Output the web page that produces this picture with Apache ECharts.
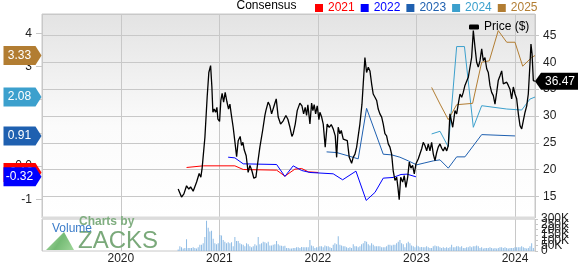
<!DOCTYPE html>
<html><head><meta charset="utf-8">
<script src="https://cdn.jsdelivr.net/npm/echarts@6/dist/echarts.min.js"></script>
<style>html,body{margin:0;padding:0;background:#fff}#c{width:578px;height:265px}</style>
</head><body><div id="c"></div>
<script>
// ---- data (time in decimal years) ----
const xMin = 2019.2, xMax = 2024.203;
const yearTicks = [2020, 2021, 2022, 2023, 2024];
const epsTicks = [-1, 0, 1, 2, 3, 4];
const volumeTicks = [0, 50000, 100000, 150000, 200000, 250000, 300000];

const priceYears = [2020.582,2020.616,2020.640,2020.667,2020.690,2020.708,2020.734,2020.769,2020.795,2020.812,2020.825,2020.853,2020.876,2020.893,2020.911,2020.924,2020.934,2020.947,2020.961,2020.975,2020.985,2021.002,2021.015,2021.028,2021.043,2021.059,2021.076,2021.093,2021.107,2021.120,2021.140,2021.160,2021.175,2021.191,2021.211,2021.225,2021.239,2021.252,2021.272,2021.292,2021.310,2021.330,2021.350,2021.371,2021.388,2021.411,2021.439,2021.462,
2021.472,2021.495,2021.513,2021.530,2021.546,2021.560,2021.577,2021.597,2021.621,2021.648,2021.675,2021.695,2021.716,2021.736,2021.749,2021.770,2021.790,2021.817,2021.838,2021.855,2021.871,2021.885,2021.898,2021.919,2021.936,2021.949,2021.962,2021.977,2021.993,2022.010,2022.020,2022.038,2022.054,2022.074,2022.094,2022.115,2022.135,2022.155,2022.176,2022.190,2022.206,2022.223,2022.237,2022.257,2022.277,2022.298,2022.318,2022.342,2022.358,
2022.376,2022.393,2022.409,2022.426,2022.447,2022.460,2022.477,2022.494,2022.511,2022.528,2022.545,2022.561,2022.579,2022.596,2022.612,2022.629,2022.647,2022.663,2022.680,2022.697,2022.714,2022.731,2022.748,2022.764,2022.782,2022.799,2022.812,2022.825,2022.840,2022.860,2022.876,2022.893,2022.911,2022.927,2022.944,2022.961,2022.978,2022.995,2023.018,2023.036,2023.053,2023.069,2023.086,2023.104,2023.120,2023.137,2023.154,2023.171,2023.188,2023.205,2023.221,2023.239,2023.256,2023.272,2023.289,2023.307,2023.323,
2023.340,2023.368,2023.391,2023.408,2023.424,2023.442,2023.459,2023.475,2023.492,2023.510,2023.526,2023.543,2023.560,2023.577,2023.594,2023.611,2023.627,2023.645,2023.662,2023.678,2023.695,2023.713,2023.729,2023.746,2023.763,2023.780,2023.797,2023.814,2023.830,2023.848,2023.865,2023.881,2023.898,2023.916,2023.932,2023.949,2023.966,2023.983,2024.000,2024.017,2024.034,2024.051,2024.068,2024.084,2024.102,2024.119,2024.135,2024.152,2024.162,2024.173,2024.186,2024.203];
const priceValues = [16.4,14.9,15.5,17.0,16.4,16.8,16.0,17.7,19.3,18.6,20.3,26.0,33.5,38.1,39.4,35.4,30.7,31.3,30.7,31.6,29.4,29.0,32.9,34.2,32.6,34.4,32.7,31.3,32.2,30.4,27.9,24.8,22.4,25.4,26.2,24.5,25.1,23.7,22.6,19.5,20.8,19.8,18.4,18.6,21.1,24.2,27.3,30.1,
31.0,32.6,31.9,30.4,30.7,32.2,33.2,29.8,28.5,29.1,30.1,29.4,27.9,26.2,26.7,28.5,31.0,32.4,31.9,30.4,31.6,30.1,32.1,28.5,32.4,31.0,32.1,30.4,31.9,29.3,30.7,29.8,28.5,24.2,28.5,27.9,28.4,27.6,26.3,22.3,27.9,26.7,27.3,25.7,26.0,25.4,22.3,21.2,22.3,
22.9,24.2,24.5,28.5,32.2,36.0,40.9,38.1,39.1,38.4,36.0,34.1,33.5,32.9,31.3,30.4,29.8,28.5,26.7,26.3,24.8,24.2,22.9,19.8,18.0,18.6,16.7,14.4,18.6,17.7,18.9,16.7,18.6,21.4,20.3,20.8,19.2,21.1,22.0,22.3,23.9,25.1,24.5,23.5,24.8,23.5,25.1,22.9,21.7,23.2,24.2,24.8,24.0,23.5,24.2,23.5,24.5,
30.4,27.9,31.0,30.4,32.2,34.1,33.5,34.4,35.7,36.0,37.2,37.5,40.9,45.9,42.8,40.0,39.1,40.3,42.5,40.3,40.9,38.8,38.1,35.7,34.4,33.8,32.2,34.4,36.6,37.5,38.4,36.0,35.7,36.3,35.7,35.0,33.2,35.4,34.1,33.2,30.4,28.2,27.6,29.1,30.7,31.9,34.1,39.7,43.4,41.6,36.6,36.47];

const eps2021Years = [2020.667,2020.836,2021.157,2021.242,2021.581,2021.665,2021.766,2021.835,2021.902,2022.003];
const eps2021 = [-0.04,0.01,0.01,-0.10,-0.12,-0.30,-0.09,-0.07,-0.17,-0.19];
const eps2022Years = [2021.089,2021.157,2021.242,2021.581,2021.665,2021.749,2021.835,2021.919,2022.155,2022.251,2022.386,2022.490,2022.579,2022.663,2022.764,2022.843,2022.904,2022.995];
const eps2022 = [0.27,0.25,0.07,0.05,-0.31,0.01,-0.13,-0.19,-0.23,-0.41,-0.15,-1.03,-0.79,-0.36,-0.34,-0.25,-0.24,-0.32];
const eps2023Years = [2022.088,2022.190,2022.308,2022.409,2022.494,2022.663,2022.748,2022.832,2022.917,2023.002,2023.086,2023.171,2023.239,2023.323,2023.408,2023.492,2023.662,2024.000];
const eps2023 = [0.43,0.41,0.31,0.22,1.74,0.36,0.34,0.27,0.16,0.04,0.10,0.16,0.19,-0.06,0.28,0.28,0.95,0.91];
const eps2024Years = [2023.154,2023.239,2023.323,2023.408,2023.487,2023.577,2023.662,2023.916,2024.068,2024.152,2024.203];
const eps2024 = [0.97,1.05,0.58,3.60,3.60,1.17,1.82,1.72,1.69,2.02,2.08];
const eps2025Years = [2023.154,2023.239,2023.323,2023.408,2023.570,2023.662,2023.739,2023.830,2023.916,2024.000,2024.078,2024.169,2024.203];
const eps2025 = [2.37,1.87,1.40,1.85,1.89,3.13,3.17,4.08,3.73,3.73,3.01,3.27,3.33];

const volumeStartYear = 2020.582, volumeStepYears = 0.01692;
const volumeK = [15,44,35,23,29,
110,29,29,29,35,29,23,35,58,58,73,131,284,218,183,189,116,73,64,73,151,145,102,87,73,81,73,
81,44,131,93,93,73,64,58,44,73,
64,44,35,44,64,52,131,64,73,87,
81,73,87,52,52,58,64,93,64,52,
49,44,49,29,29,23,23,29,29,35,
35,29,38,35,35,35,35,102,52,44,
29,35,35,44,44,35,52,44,44,35,
29,58,73,64,139,58,52,44,44,35,
29,35,29,64,44,44,35,44,64,73,
93,87,64,52,73,58,44,44,44,44,
35,35,35,44,58,58,52,58,58,73,
87,102,73,64,35,73,87,73,52,44,
35,52,44,35,38,35,35,44,35,29,
29,44,52,44,44,35,29,35,29,35,
29,35,58,35,35,44,44,35,44,29,
29,35,35,44,35,44,44,52,44,29,
35,23,29,29,29,35,29,23,29,23,
29,35,35,29,35,29,23,29,29,29,
35,35,35,35,44,35,29,23,29,44,
73,29];

const seriesNames = ['2021','2022','2023','2024','2025'];
const seriesColors = ['#ff0000','#0000ff','#1f60b0','#3ca0cd','#b27d32'];
const epsYears = [eps2021Years, eps2022Years, eps2023Years, eps2024Years, eps2025Years];
const epsValues = [eps2021, eps2022, eps2023, eps2024, eps2025];

// ---- build ----
const FONT = "'Liberation Sans', Arial, sans-serif";
const zip = (xs, ys) => xs.map((x, i) => [x, ys[i]]);
const series = [];
seriesNames.forEach((n, i) => {
  series.push({
    name: n, type: 'line', xAxisIndex: 0, yAxisIndex: 1,
    data: zip(epsYears[i], epsValues[i]), showSymbol: false, symbol: 'none',
    lineStyle: { width: 1, color: seriesColors[i] }, itemStyle: { color: seriesColors[i] },
    z: 3, animation: false
  });
});
series.push({
  name: 'Price ($)', type: 'line', xAxisIndex: 0, yAxisIndex: 0,
  data: zip(priceYears, priceValues), showSymbol: false, symbol: 'none',
  lineStyle: { width: 1.3, color: '#000' }, itemStyle: { color: '#000' }, z: 4, animation: false
});
series.push({
  name: 'Volume', type: 'bar', xAxisIndex: 1, yAxisIndex: 2, barWidth: 1,
  data: volumeK.map((v, i) => [volumeStartYear + i * volumeStepYears, v * 1000]),
  itemStyle: { color: '#8fbce5' }, animation: false
});
// left consensus tags (latest value of each year)
seriesNames.forEach((n, i) => {
  const vals = epsValues[i];
  series.push({
    name: 'tag' + n, type: 'scatter', xAxisIndex: 0, yAxisIndex: 1, clip: false,
    data: [[xMin, vals[vals.length - 1]]],
    symbol: 'path://M0,0L32,0L38,9.5L32,19L0,19Z', symbolSize: [38, 19], symbolOffset: [-19.5, 0],
    itemStyle: { color: seriesColors[i], opacity: 1 },
    label: { show: true, position: 'inside', offset: [-3, 0], color: '#fff', fontSize: 12, fontFamily: FONT,
      formatter: p => p.value[1].toFixed(2) },
    z: 10 + i, silent: true, animation: false
  });
});
series.push({
  name: 'priceTag', type: 'scatter', xAxisIndex: 0, yAxisIndex: 0, clip: false,
  data: [[xMax, priceValues[priceValues.length - 1]]],
  symbol: 'path://M6,0L44,0L44,17L6,17L0,8.5Z', symbolSize: [44, 17], symbolOffset: [22, 0],
  itemStyle: { color: '#000', opacity: 1 },
  label: { show: true, position: 'inside', offset: [3, 0], color: '#fff', fontSize: 12, fontFamily: FONT,
    formatter: p => p.value[1].toFixed(2) },
  z: 20, silent: true, animation: false
});

const gridLine = { show: true, lineStyle: { color: '#c8c8c8', width: 1 } };
const volFmt = v => (v === 0 ? '0' : (v / 1000) + 'K');
// volume labels split over three overlaid axes so every crowded label is drawn
const volLabelAxes = [0, 1, 2].map(k => ({
  type: 'value', gridIndex: 1, position: 'right', offset: 0, min: 0, max: 300000, interval: 50000,
  splitLine: { show: false }, axisLine: { show: false },
  axisTick: k === 0 ? { show: true, length: 3, lineStyle: { color: '#c8c8c8' }, customValues: volumeTicks } : { show: false },
  axisLabel: { margin: 6, fontSize: 12, color: '#222', hideOverlap: false,
    customValues: volumeTicks.filter((v, i) => i % 3 === k), showMinLabel: true, showMaxLabel: true, formatter: volFmt }
}));
const option = {
  animation: false,
  backgroundColor: '#fff',
  textStyle: { fontFamily: FONT },
  grid: [
    { left: 42, right: 43, top: 14, height: 204, show: true, borderColor: '#c8c8c8', borderWidth: 1,
      backgroundColor: { type: 'linear', x: 0, y: 0, x2: 0, y2: 1,
        colorStops: [{ offset: 0, color: '#e3e3e3' }, { offset: 0.55, color: '#fbfbfb' }, { offset: 1, color: '#ffffff' }] } },
    { left: 42, right: 43, top: 219, height: 35, show: true, borderColor: '#c8c8c8', borderWidth: 1, backgroundColor: '#fff' }
  ],
  legend: [
    { left: 310, top: -3, itemWidth: 8, itemHeight: 8, itemGap: 6, icon: 'rect', selectedMode: false,
      textStyle: { fontSize: 12, fontFamily: FONT },
      data: seriesNames.map((n, i) => ({ name: n, itemStyle: { color: seriesColors[i] }, textStyle: { color: seriesColors[i] } })) },
    { left: 464, top: 16, itemWidth: 10, itemHeight: 5, icon: 'roundRect', selectedMode: false,
      textStyle: { fontSize: 12, color: '#000', fontFamily: FONT }, data: ['Price ($)'] }
  ],
  xAxis: [
    { type: 'value', gridIndex: 0, min: xMin, max: xMax, splitLine: gridLine,
      axisLine: { show: false }, axisTick: { show: false }, axisLabel: { show: false } },
    { type: 'value', gridIndex: 1, min: xMin, max: xMax, splitLine: gridLine,
      axisLine: { show: false }, axisTick: { show: false },
      axisLabel: { show: true, margin: 2, fontSize: 12, color: '#222',
        customValues: yearTicks, formatter: v => String(Math.round(v)) } }
  ],
  yAxis: [
    { type: 'value', gridIndex: 0, position: 'right', min: 11, max: 49, splitNumber: 8,
      splitLine: gridLine, axisLine: { show: false },
      axisTick: { show: true, length: 4, lineStyle: { color: '#c8c8c8' } },
      axisLabel: { margin: 8, fontSize: 12, color: '#222', showMinLabel: false, showMaxLabel: false } },
    { type: 'value', gridIndex: 0, position: 'left', min: -1.56, max: 4.58, splitNumber: 6,
      splitLine: { show: false }, axisLine: { show: false },
      axisTick: { show: true, length: 6, lineStyle: { color: '#c8c8c8' }, customValues: epsTicks },
      axisLabel: { margin: 10, fontSize: 12, color: '#222', customValues: epsTicks,
        formatter: v => (v === 0 ? '0.0' : String(v)) } }
  ].concat(volLabelAxes),
  graphic: [
    { type: 'rect', shape: { x: 42, y: 216.5, width: 493, height: 3 }, style: { fill: '#dcdcdc' }, z: 5, silent: true },
    { type: 'text', x: 236.5, y: 5.5, style: { text: 'Consensus', fontSize: 12, fontFamily: FONT, fill: '#000', verticalAlign: 'middle' }, z: 5 },
    { type: 'polygon', shape: { points: [[46, 250], [74, 250], [64, 232]] },
      style: { fill: { type: 'linear', x: 0, y: 0, x2: 1, y2: 1,
        colorStops: [{ offset: 0, color: '#a8d8a0' }, { offset: 0.5, color: '#5caf5c' }, { offset: 1, color: '#8fcf88' }] }, opacity: 0.85 }, z: 5 },
    { type: 'text', x: 79, y: 222, style: { text: 'Charts by', fontSize: 12, fontWeight: 'bold', fontFamily: FONT, fill: '#80ae80', verticalAlign: 'middle' }, z: 5 },
    { type: 'text', x: 78, y: 241.5, style: { text: 'ZACKS', fontSize: 24, fontFamily: FONT, fill: '#7aa97a', verticalAlign: 'middle' }, z: 5 },
    { type: 'text', x: 52, y: 229, style: { text: 'Volume', fontSize: 12, fontFamily: FONT, fill: '#3b7cc9', verticalAlign: 'middle' }, z: 6 }
  ],
  series: series
};
const chart = echarts.init(document.getElementById('c'), null, { renderer: 'canvas' });
chart.setOption(option);
</script></body></html>
